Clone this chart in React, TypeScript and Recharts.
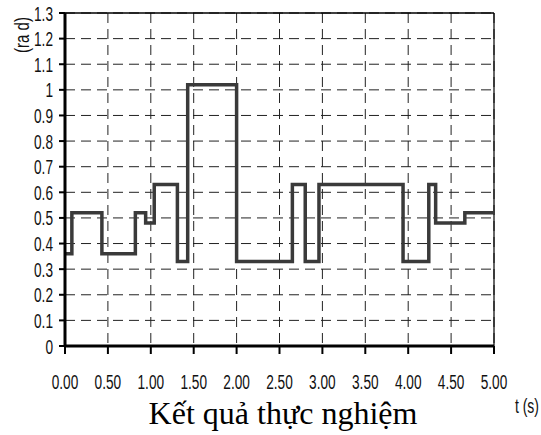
import React from "react";
import {
  LineChart,
  Line,
  XAxis,
  YAxis,
  CartesianGrid,
  ReferenceLine,
} from "recharts";

// step changes of the measured angle: time (s) -> value (rad)
const times = [0, 0.08, 0.43, 0.82, 0.94, 1.04, 1.31, 1.43, 2.0, 2.65, 2.8, 2.96, 3.94, 4.24, 4.32, 4.66, 5.0];
const angles = [0.36, 0.52, 0.36, 0.52, 0.48, 0.63, 0.33, 1.02, 0.33, 0.63, 0.33, 0.63, 0.33, 0.63, 0.48, 0.52, 0.52];

const xTicks = [0, 0.5, 1, 1.5, 2, 2.5, 3, 3.5, 4, 4.5, 5];
const yTicks = [0, 0.1, 0.2, 0.3, 0.4, 0.5, 0.6, 0.7, 0.8, 0.9, 1, 1.1, 1.2, 1.3];

const TITLE = "Kết quả thực nghiệm";
const X_UNIT = "t (s)";
const Y_UNIT = "(ra d)";

const W = 541;
const H = 435;
const NARROW = "'Liberation Sans', Arial, sans-serif";

const data = times.map((t, i) => ({ t, v: angles[i] }));

// tall, condensed tick labels
function XTick(props: any) {
  const { x, y, payload } = props;
  return (
    <text
      transform={`translate(${x},${y + 33}) scale(0.65,1)`}
      textAnchor="middle"
      fontFamily={NARROW}
      fontSize={21}
      fill="#111"
    >
      {Number(payload.value).toFixed(2)}
    </text>
  );
}

function YTick(props: any) {
  const { x, y, payload } = props;
  return (
    <text
      transform={`translate(${x - 4},${y + 7.5}) scale(0.65,1)`}
      textAnchor="end"
      fontFamily={NARROW}
      fontSize={21}
      fill="#111"
    >
      {String(payload.value)}
    </text>
  );
}

export default function App() {
  return (
    <div
      style={{
        position: "fixed",
        left: 0,
        top: 0,
        width: W,
        height: H,
        overflow: "hidden",
        background: "#fff",
      }}
    >
      <LineChart
        width={W}
        height={H}
        data={data}
        margin={{ top: 13, right: 47, bottom: 49, left: 0 }}
      >
        <CartesianGrid stroke="#222" strokeWidth={1} strokeDasharray="10 6" />
        <XAxis
          dataKey="t"
          type="number"
          domain={[0, 5]}
          ticks={xTicks}
          interval={0}
          height={40}
          axisLine={{ stroke: "#000", strokeWidth: 3 }}
          tickLine={{ stroke: "#000", strokeWidth: 2 }}
          tickSize={8}
          tick={<XTick />}
        />
        <YAxis
          type="number"
          domain={[0, 1.3]}
          ticks={yTicks}
          interval={0}
          width={65}
          axisLine={{ stroke: "#000", strokeWidth: 3 }}
          tickLine={{ stroke: "#000", strokeWidth: 2 }}
          tickSize={6}
          tick={<YTick />}
        />
        {/* solid frame on the top and right edges */}
        <ReferenceLine y={1.3} stroke="#000" strokeWidth={1.5} />
        <ReferenceLine x={5} stroke="#000" strokeWidth={1.2} />
        <Line
          type="stepAfter"
          dataKey="v"
          stroke="#3a3a3a"
          strokeWidth={3.5}
          dot={false}
          isAnimationActive={false}
        />
      </LineChart>
      <svg
        width={W}
        height={H}
        style={{ position: "absolute", left: 0, top: 0, pointerEvents: "none" }}
      >
        <text
          transform="translate(29,35) rotate(-90) scale(0.75,1)"
          textAnchor="middle"
          fontFamily={NARROW}
          fontSize={20}
          fill="#111"
        >
          {Y_UNIT}
        </text>
        <text
          transform="translate(539,413) scale(0.7,1)"
          textAnchor="end"
          fontFamily={NARROW}
          fontSize={20}
          fill="#111"
        >
          {X_UNIT}
        </text>
        <text
          x={283}
          y={424}
          textAnchor="middle"
          fontFamily="'Liberation Serif', 'Times New Roman', serif"
          fontSize={32}
          fill="#000"
        >
          {TITLE}
        </text>
      </svg>
    </div>
  );
}
